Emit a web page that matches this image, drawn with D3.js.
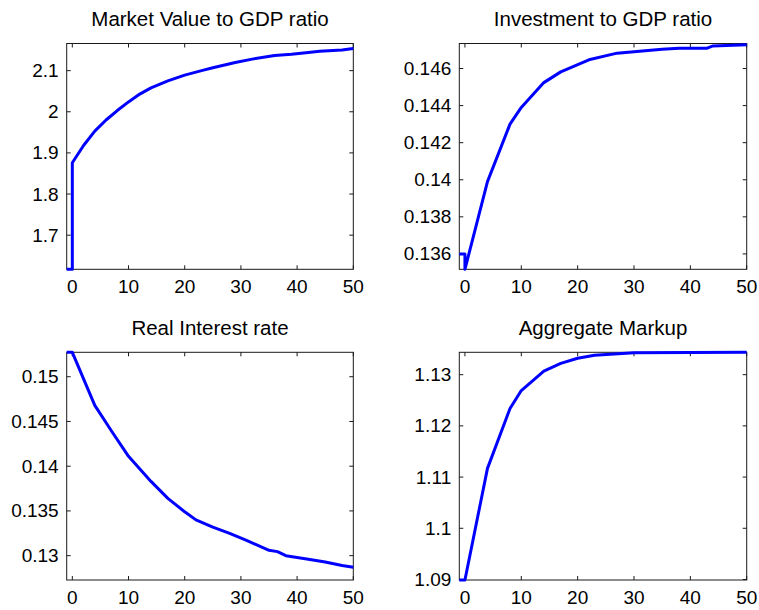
<!DOCTYPE html>
<html>
<head>
<meta charset="utf-8">
<script src="https://cdn.jsdelivr.net/npm/d3@7"></script>
<style>
  html, body { margin: 0; padding: 0; background: #fff; }
  svg { display: block; }
</style>
</head>
<body>
<svg id="chart" width="759" height="610"></svg>
<script>
// ---- Data ----
const titles = ["Market Value to GDP ratio", "Investment to GDP ratio", "Real Interest rate", "Aggregate Markup"];

const xTicks = [0, 10, 20, 30, 40, 50];
const xDomain = [-1, 50];

// Panel 1: Market Value to GDP ratio
const mvT = [-1, 0, 0, 2, 4, 6, 8, 10, 12, 14, 17, 20, 23, 25, 29, 32, 36, 39, 42, 44, 48, 50];
const mvV = [1.617, 1.617, 1.876, 1.918, 1.953, 1.980, 2.003, 2.024, 2.043, 2.058, 2.075, 2.089, 2.100, 2.107, 2.120, 2.128, 2.137, 2.140, 2.144, 2.147, 2.150, 2.154];
const mvTicks = [1.7, 1.8, 1.9, 2, 2.1];
const mvDomain = [1.617, 2.166];

// Panel 2: Investment to GDP ratio
const invT = [-1, 0, 0, 4, 8, 10, 14, 17, 22, 27, 35, 38, 43, 44, 50];
const invV = [0.1360, 0.1360, 0.13517, 0.1399, 0.1430, 0.1439, 0.14524, 0.14582, 0.14647, 0.14683, 0.14704, 0.14710, 0.14710, 0.14722, 0.14728];
const invTicks = [0.136, 0.138, 0.14, 0.142, 0.144, 0.146];
const invDomain = [0.13517, 0.14735];

// Panel 3: Real Interest rate
const rT = [-1, 0, 4, 7, 10, 14, 17, 20, 22, 25, 28, 31, 35, 36.5, 38, 42, 45, 48, 50];
const rV = [0.15273, 0.15273, 0.1468, 0.1439, 0.1411, 0.1383, 0.1364, 0.1349, 0.1340, 0.1332, 0.1325, 0.1317, 0.1306, 0.13045, 0.1300, 0.1296, 0.1293, 0.1289, 0.1287];
const rTicks = [0.13, 0.135, 0.14, 0.145, 0.15];
const rDomain = [0.12728, 0.15273];

// Panel 4: Aggregate Markup
const mkT = [-1, 0, 4, 8, 10, 14, 17, 20, 23, 30, 50];
const mkV = [1.0899, 1.0899, 1.1117, 1.1234, 1.1269, 1.1307, 1.1322, 1.1332, 1.1338, 1.1343, 1.1344];
const mkTicks = [1.09, 1.1, 1.11, 1.12, 1.13];
const mkDomain = [1.0899, 1.13437];

// ---- Layout ----
const panels = [
  { title: titles[0], t: mvT, v: mvV, ticks: mvTicks, domain: mvDomain, x0: 66.7, x1: 353.3, y0: 43.5, y1: 269.3 },
  { title: titles[1], t: invT, v: invV, ticks: invTicks, domain: invDomain, x0: 459.3, x1: 746.7, y0: 43.5, y1: 269.3 },
  { title: titles[2], t: rT, v: rV, ticks: rTicks, domain: rDomain, x0: 66.7, x1: 353.3, y0: 352.3, y1: 580 },
  { title: titles[3], t: mkT, v: mkV, ticks: mkTicks, domain: mkDomain, x0: 459.3, x1: 746.7, y0: 352.3, y1: 580 }
];

const svg = d3.select("#chart");
const font = "'Liberation Sans', Arial, Helvetica, sans-serif";
const axisColor = "#1a1a1a";
const tickLen = 4;
const fmt = v => String(+v.toFixed(4));

panels.forEach(p => {
  const x = d3.scaleLinear().domain(xDomain).range([p.x0, p.x1]);
  const y = d3.scaleLinear().domain(p.domain).range([p.y1, p.y0]);
  const g = svg.append("g");

  // box
  g.append("rect").attr("x", p.x0).attr("y", p.y0)
    .attr("width", p.x1 - p.x0).attr("height", p.y1 - p.y0)
    .attr("fill", "none").attr("stroke", axisColor).attr("stroke-width", 1);

  // ticks (inside, all four sides)
  xTicks.forEach(t => {
    g.append("line").attr("x1", x(t)).attr("x2", x(t)).attr("y1", p.y1).attr("y2", p.y1 - tickLen)
      .attr("stroke", axisColor).attr("stroke-width", 1);
    g.append("line").attr("x1", x(t)).attr("x2", x(t)).attr("y1", p.y0).attr("y2", p.y0 + tickLen)
      .attr("stroke", axisColor).attr("stroke-width", 1);
    g.append("text").attr("x", x(t)).attr("y", p.y1 + 24)
      .attr("text-anchor", "middle").attr("font-family", font).attr("font-size", 19)
      .attr("fill", "#000").text(fmt(t));
  });
  p.ticks.forEach(v => {
    g.append("line").attr("x1", p.x0).attr("x2", p.x0 + tickLen).attr("y1", y(v)).attr("y2", y(v))
      .attr("stroke", axisColor).attr("stroke-width", 1);
    g.append("line").attr("x1", p.x1).attr("x2", p.x1 - tickLen).attr("y1", y(v)).attr("y2", y(v))
      .attr("stroke", axisColor).attr("stroke-width", 1);
    g.append("text").attr("x", p.x0 - 8).attr("y", y(v) + 6.5)
      .attr("text-anchor", "end").attr("font-family", font).attr("font-size", 19)
      .attr("fill", "#000").text(fmt(v));
  });

  // data line (drawn over the box)
  const data = p.t.map((t, i) => [t, p.v[i]]);
  g.append("path").datum(data)
    .attr("d", d3.line().x(d => x(d[0])).y(d => y(d[1])))
    .attr("fill", "none").attr("stroke", "#0000ff").attr("stroke-width", 3)
    .attr("stroke-linejoin", "round");

  // title
  g.append("text").attr("x", (p.x0 + p.x1) / 2).attr("y", p.y0 - 17.5)
    .attr("text-anchor", "middle").attr("font-family", font).attr("font-size", 20.5)
    .attr("fill", "#000").text(p.title);
});
</script>
</body>
</html>
